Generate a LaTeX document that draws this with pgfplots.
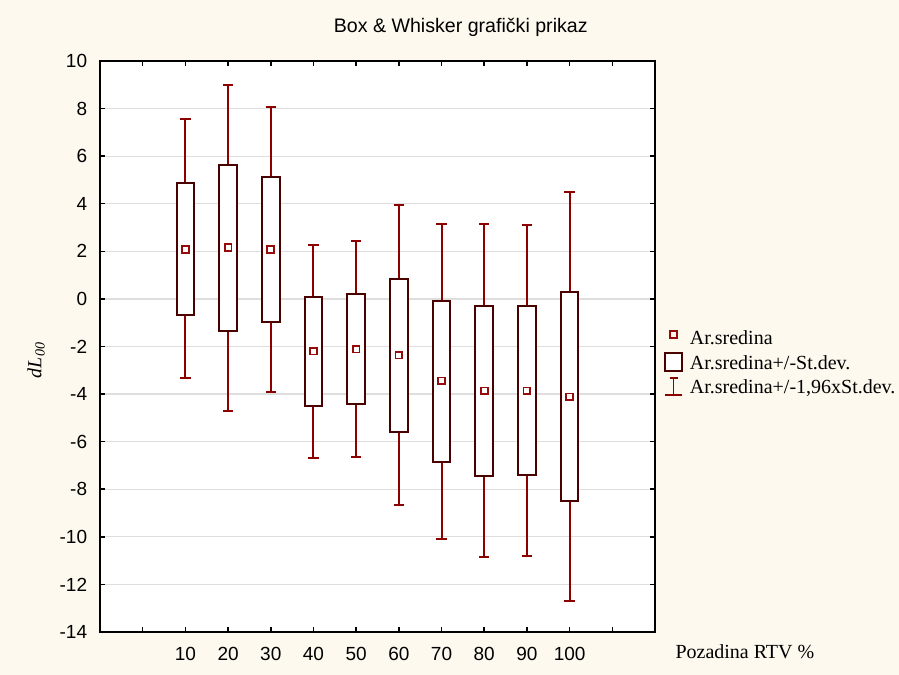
\documentclass[border=0pt]{standalone}
\usepackage{pgfplots}
\pgfplotsset{compat=1.18}
\usepgfplotslibrary{statistics}
\usepackage{fontspec}
\setmainfont{Liberation Serif}
\newfontfamily\arial{Liberation Sans}
\definecolor{bgcream}{RGB}{253,249,239}
\definecolor{whisk}{RGB}{140,0,0}
\definecolor{boxc}{RGB}{75,0,0}
\definecolor{meanc}{RGB}{150,10,10}
\definecolor{gridc}{RGB}{222,222,222}
\begin{document}
\begin{tikzpicture}
\fill[bgcream] (0,0) rectangle (899bp,675bp);
\useasboundingbox (0,0) rectangle (899bp,675bp);
\begin{axis}[
  at={(100bp,43bp)}, anchor=south west,
  width=555bp, height=571bp, scale only axis,
  xmin=0, xmax=13, ymin=-14, ymax=10,
  axis background/.style={fill=white},
  axis line style={line width=2.2bp, black},
  xtick={1,...,12},
  xticklabels={,10,20,30,40,50,60,70,80,90,100,},
  ytick={-14,-12,...,10},
  yticklabels={-14,-12,-10,-8,-6,-4,-2,0,2,4,6,8,10},
  tick align=inside, major tick length=5bp,
  major tick style={black, line width=1.5bp},
  ymajorgrids, grid style={gridc, line width=1.3bp},
  tick label style={font=\arial\fontsize{19bp}{22bp}\selectfont, inner sep=0pt},
  yticklabel style={xshift=-12.7bp},
  xticklabel style={yshift=-14.7bp},
  title={Box \& Whisker grafički prikaz},
  title style={font=\arial\fontsize{19.6bp}{22bp}\selectfont, at={(axis description cs:0.650,1)}, anchor=base, yshift=22.7bp, inner sep=0pt},
  xlabel={Pozadina RTV \%},
  xlabel style={font=\fontsize{20bp}{23bp}\selectfont, at={(axis description cs:1.162,0)}, anchor=base, yshift=-26bp, inner sep=0pt},
  ylabel={\textit{dL\textsubscript{00}}},
  ylabel style={font=\fontsize{20bp}{23bp}\selectfont, at={(axis description cs:-0.115,0.476)}, anchor=center, inner sep=0pt},
  legend style={at={(axis description cs:1.0164,0.532)}, anchor=north west, draw=none, fill=none, inner sep=0pt, outer sep=0pt,
    font=\fontsize{20bp}{23bp}\selectfont, row sep=4bp, column sep=7bp,
    nodes={inner sep=0pt, text height=16bp, text depth=4bp}},
  legend cell align=left,
  boxplot/draw direction=y,
  boxplot/box extend=0.41,
  boxplot/whisker extend=0.24,
  boxplot/every box/.style={draw=boxc, fill=white, line width=2bp},
  boxplot/every whisker/.style={draw=whisk, line width=2bp},
  boxplot/every median/.style={draw=none},
]
\addplot[forget plot, boxplot prepared={draw position=2, lower whisker=-3.34, lower quartile=-0.68, median=2.08, upper quartile=4.89, upper whisker=7.56}] coordinates {};
\addplot[forget plot, boxplot prepared={draw position=3, lower whisker=-4.70, lower quartile=-1.34, median=2.17, upper quartile=5.62, upper whisker=8.99}] coordinates {};
\addplot[forget plot, boxplot prepared={draw position=4, lower whisker=-3.91, lower quartile=-0.97, median=2.08, upper quartile=5.12, upper whisker=8.06}] coordinates {};
\addplot[forget plot, boxplot prepared={draw position=5, lower whisker=-6.69, lower quartile=-4.49, median=-2.19, upper quartile=0.07, upper whisker=2.27}] coordinates {};
\addplot[forget plot, boxplot prepared={draw position=6, lower whisker=-6.66, lower quartile=-4.43, median=-2.11, upper quartile=0.21, upper whisker=2.45}] coordinates {};
\addplot[forget plot, boxplot prepared={draw position=7, lower whisker=-8.66, lower quartile=-5.58, median=-2.36, upper quartile=0.84, upper whisker=3.93}] coordinates {};
\addplot[forget plot, boxplot prepared={draw position=8, lower whisker=-10.09, lower quartile=-6.84, median=-3.45, upper quartile=-0.09, upper whisker=3.15}] coordinates {};
\addplot[forget plot, boxplot prepared={draw position=9, lower whisker=-10.85, lower quartile=-7.44, median=-3.87, upper quartile=-0.30, upper whisker=3.15}] coordinates {};
\addplot[forget plot, boxplot prepared={draw position=10, lower whisker=-10.79, lower quartile=-7.39, median=-3.87, upper quartile=-0.30, upper whisker=3.11}] coordinates {};
\addplot[forget plot, boxplot prepared={draw position=11, lower whisker=-12.71, lower quartile=-8.50, median=-4.12, upper quartile=0.28, upper whisker=4.51}] coordinates {};
% means
\addplot[forget plot, only marks, mark=square, mark size=3.4bp, mark options={draw=meanc, line width=1.8bp, solid}]
  coordinates {(2,2.08) (3,2.17) (4,2.08) (5,-2.19) (6,-2.11) (7,-2.36) (8,-3.45) (9,-3.87) (10,-3.87) (11,-4.12)};
\addlegendimage{legend image code/.code={\draw[meanc, line width=1.8bp] (5.1bp,0.6bp) rectangle (11.9bp,7.4bp);}}
\addlegendentry{Ar.sredina}
\addlegendimage{legend image code/.code={\draw[boxc, line width=1.8bp, fill=white] (0bp,-8bp) rectangle (17bp,10bp);}}
\addlegendentry{Ar.sredina+/-St.dev.}
\addlegendimage{legend image code/.code={\draw[whisk, line width=1.8bp] (8.5bp,-8bp) -- (8.5bp,9bp) (4.5bp,9bp) -- (12.5bp,9bp) (0bp,-8bp) -- (17bp,-8bp);}}
\addlegendentry{Ar.sredina+/-1,96xSt.dev.}
\end{axis}
\end{tikzpicture}
\end{document}
